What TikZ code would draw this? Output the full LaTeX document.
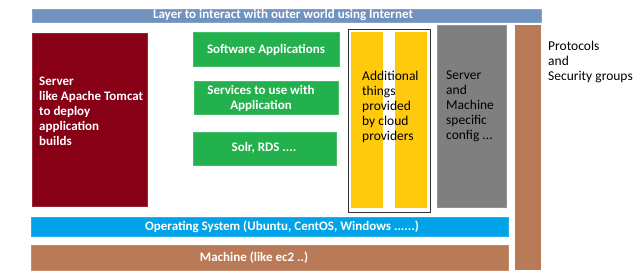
\documentclass[tikz,border=0pt]{standalone}
\usepackage{fontspec}
\setmainfont{Carlito}
\definecolor{topblue}{HTML}{7092BE}
\definecolor{darkred}{HTML}{880015}
\definecolor{pgreen}{HTML}{22B14C}
\definecolor{pyellow}{HTML}{FFC90E}
\definecolor{pgray}{HTML}{7F7F7F}
\definecolor{pbrown}{HTML}{B97A57}
\definecolor{osblue}{HTML}{00A2E8}
\tikzset{
  blk/.style={draw=#1!85!white, line width=0.6pt, fill=#1, inner sep=0pt, outer sep=0pt},
  wtxt/.style={text=white, font=\fontsize{13}{15}\selectfont\bfseries, inner sep=0pt},
  btxt/.style={text=black, font=\fontsize{13.5}{15}\selectfont, inner sep=0pt, align=left},
}
\begin{document}
\begin{tikzpicture}[x=1pt,y=-1pt]
\useasboundingbox[fill=white] (0,0) rectangle (640,279);
% top bar
\path[blk=topblue] (32,9.5) rectangle (541,22.5);
\node[wtxt] (top) at (283,15.5) {Layer to interact with outer world using Internet};
% red server
\path[blk=darkred] (32,33) rectangle (147,206);
\node[wtxt, anchor=north west, align=left] (srv) at (39,77) {Server\\like Apache Tomcat\\to deploy\\application\\builds};
% green boxes
\path[blk=pgreen] (193,32) rectangle (339,66);
\node[wtxt] (g1) at (266,50) {Software Applications};
\path[blk=pgreen] (194,81) rectangle (338,114);
\node[wtxt, align=center] (g2) at (261,98.5) {Services to use with\\Application};
\path[blk=pgreen] (193,132) rectangle (336,165);
\node[wtxt] (g3) at (264,148) {Solr, RDS ....};
% cloud provider box
\node[draw=black!80, line width=0.6pt, fill=white, inner sep=0pt, anchor=north west, minimum width=82pt, minimum height=183pt] (cloud) at (348,29) {};
\path[fill=pyellow] (351,32) rectangle (383,208);
\path[fill=pyellow] (395,32) rectangle (426.5,208);
\node[btxt, anchor=north west] (add) at (362,71) {Additional\\things\\provided\\by cloud\\providers};
% gray
\path[blk=pgray] (437,25) rectangle (506,207);
\node[btxt, anchor=north west] (cfg) at (446,71) {Server\\and\\Machine\\specific\\config ...};
% brown vertical
\path[fill=pbrown] (515,25) rectangle (541,270);
\node[btxt, anchor=north west] (proto) at (548,41) {Protocols\\and\\Security groups};
% OS
\path[blk=osblue] (31.5,217) rectangle (508,236);
\node[wtxt] (os) at (282,227) {Operating System (Ubuntu, CentOS, Windows ......)};
% machine
\path[blk=pbrown] (31,245) rectangle (508,270);
\node[wtxt] (mach) at (254,258) {Machine (like ec2 ..)};
\end{tikzpicture}
\end{document}
